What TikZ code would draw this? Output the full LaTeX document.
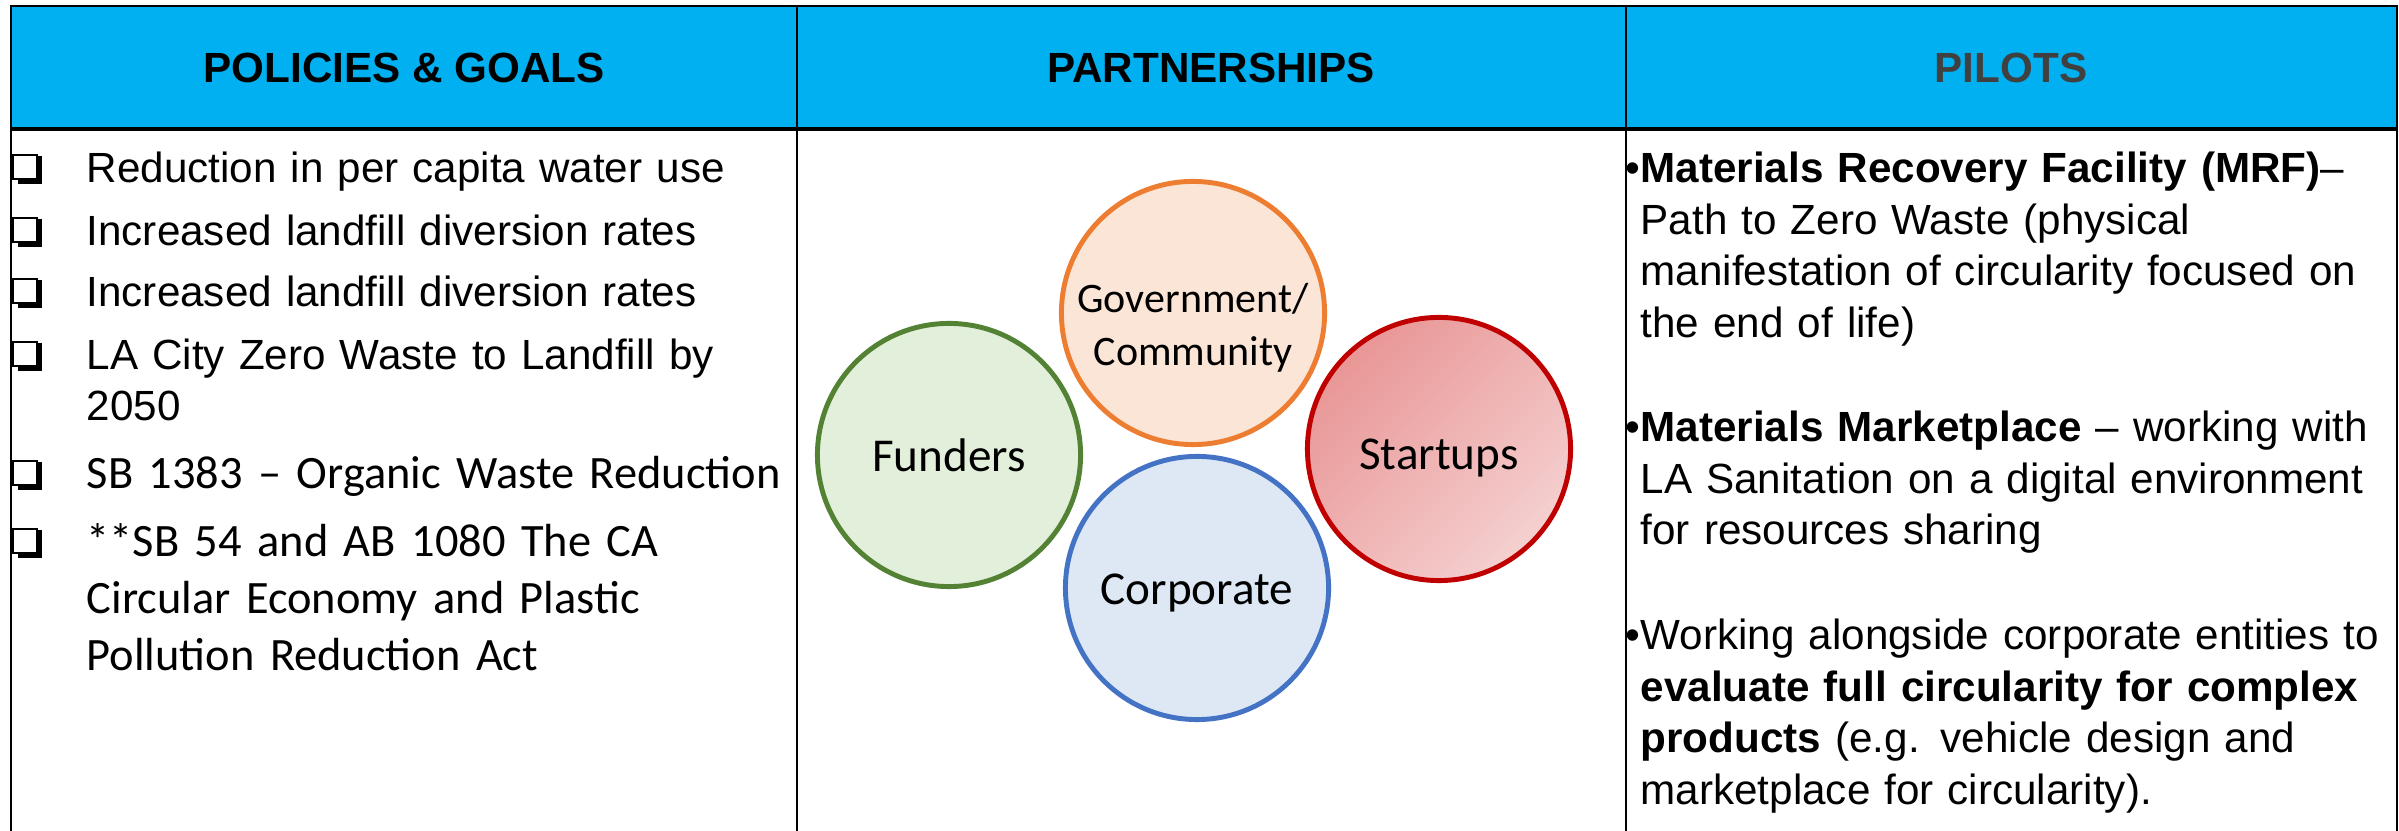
\documentclass[tikz,border=0pt]{standalone}
\usepackage{fontspec}
\setmainfont{Liberation Sans}
\newfontfamily\calibri{Carlito}
\usepackage{xcolor}

\definecolor{hdrblue}{HTML}{00B0F0}
\definecolor{pilotgray}{HTML}{404040}
\definecolor{fundgreen}{HTML}{548235}
\definecolor{fundfill}{HTML}{E2EFDA}
\definecolor{govorange}{HTML}{ED7D31}
\definecolor{govfill}{HTML}{FBE5D6}
\definecolor{corpblue}{HTML}{4472C4}
\definecolor{corpfill}{HTML}{DEE8F5}
\definecolor{startred}{HTML}{C00000}
\definecolor{startdark}{HTML}{E99696}
\definecolor{startlight}{HTML}{F5D0D0}

\begin{document}
\begin{tikzpicture}[
    x=0.01cm, y=-0.01cm,
    hdr/.style={anchor=base, inner sep=0pt, font=\bfseries\fontsize{12}{14}\selectfont},
    item/.style={anchor=base west, text width=7.4cm, align=left, inner sep=0pt,
        font=\fontsize{12}{14.5}\selectfont},
    citem/.style={item, font=\calibri\fontsize{13.2}{16.2}\selectfont},
    pilot/.style={anchor=base west, text width=7.5cm, align=left, inner sep=0pt,
        font=\fontsize{12}{14.6}\selectfont},
    partner/.style={circle, minimum size=2.63cm, line width=1.4pt, inner sep=0pt,
        text height=0.32cm, text depth=0pt,
        font=\calibri\fontsize{13.4}{16}\selectfont}
]
    \useasboundingbox (0,0) rectangle (2399,831);
    \fill[white] (0,0) rectangle (2399,831);

    % header band and grid
    \fill[hdrblue] (11,6) rectangle (2397,129);
    \draw[line width=0.7pt] (11,831) -- (11,6) -- (2397,6) -- (2397,831);
    \draw[line width=0.9pt] (11,129) -- (2397,129);
    \draw[line width=0.7pt] (797,6) -- (797,831);
    \draw[line width=0.7pt] (1626,6) -- (1626,831);

    \node[hdr] (hpol) at (404,83) {POLICIES \& GOALS};
    \node[hdr] (hpart) at (1211,83) {PARTNERSHIPS};
    \node[hdr, text=pilotgray] (hpil) at (2011,83) {PILOTS};

    % policies
    \foreach \y in {183,246,307,370,489,557} {
        \fill (18,\y-27) rectangle (42,\y+1);
        \draw[fill=white, line width=0.5pt] (13,\y-28) rectangle (37,\y-4);
    }
    \node[item] (pol1) at (86,183) {Reduction in per capita water use};
    \node[item] (pol2) at (86,246) {Increased landfill diversion rates};
    \node[item] (pol3) at (86,307) {Increased landfill diversion rates};
    \node[item] (pol4) at (86,370) {LA City Zero Waste to Landfill by\\2050};
    \node[citem] (pol5) at (86,489) {SB 1383 – Organic Waste Reduction};
    \node[citem] (pol6) at (86,557) {**SB 54 and AB 1080 The CA\\Circular Economy and Plastic\\Pollution Reduction Act};

    % partnerships
    \node[partner, draw=fundgreen, fill=fundfill] (fund) at (949,455) {Funders};
    \node[partner, draw=govorange, fill=govfill] (gov) at (1193,313) {};
    \node[anchor=base, text width=2.6cm, align=center, inner sep=0pt,
        font=\calibri\fontsize{11.95}{14.8}\selectfont] (govtxt) at (1193,313) {Government/\\Community};
    \node[partner, draw=corpblue, fill=corpfill] (corp) at (1197,588) {Corporate};
    \node[partner, draw=startred, left color=startdark, right color=startlight,
        shading angle=45, text height=0.4cm] (start) at (1439,449) {Startups};

    % pilots
    \node[pilot] (mrf) at (1640,183) {\llap{\textbullet}\textbf{Materials Recovery Facility (MRF)}–\\Path to Zero Waste (physical\\manifestation of circularity focused on\\the end of life)};
    \node[pilot] (market) at (1640,442) {\llap{\textbullet}\textbf{Materials Marketplace} – working with\\LA Sanitation on a digital environment\\for resources sharing};
    \node[pilot] (corpwork) at (1640,650) {\llap{\textbullet}Working alongside corporate entities to\\\textbf{evaluate full circularity for complex}\\\textbf{products} (e.g. vehicle design and\\marketplace for circularity).};
\end{tikzpicture}
\end{document}
